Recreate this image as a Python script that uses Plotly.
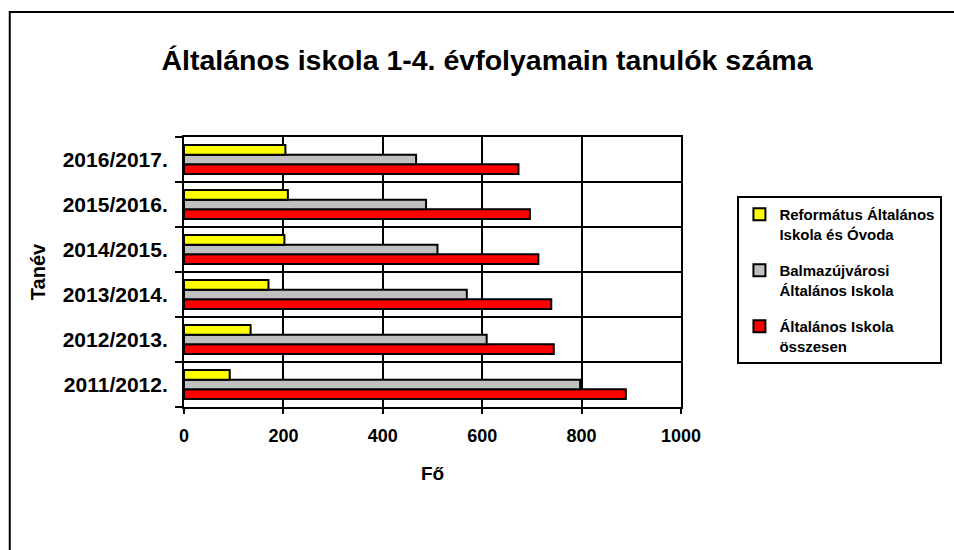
import plotly.graph_objects as go

# adatok
tanev = ["2011/2012.", "2012/2013.", "2013/2014.", "2014/2015.", "2015/2016.", "2016/2017."]
reformatus = [92, 134, 170, 202, 209, 204]
balmazujvarosi = [797, 609, 569, 510, 487, 467]
osszesen = [889, 744, 739, 713, 696, 673]

nevek = ["Általános Iskola<br>összesen",
         "Balmazújvárosi<br>Általános Iskola",
         "Református Általános<br>Iskola és Óvoda"]
szinek = ["#ff0000", "#c0c0c0", "#ffff00"]
ertekek = [osszesen, balmazujvarosi, reformatus]

betu = "Liberation Sans, Arial, sans-serif"

fig = go.Figure()
for i, (nev, szin, ert) in enumerate(zip(nevek, szinek, ertekek)):
    fig.add_trace(go.Bar(
        y=tanev, x=ert, name=nev, orientation="h", legendgroup=nev, legendrank=3 - i,
        marker=dict(color=szin, line=dict(color="black", width=2))))

fig.update_layout(
    width=954, height=550,
    plot_bgcolor="white", paper_bgcolor="white",
    margin=dict(l=184, r=268, t=137, b=143),
    barmode="group", bargap=0.36, bargroupgap=0,
    font=dict(family=betu, color="black", weight="bold"),
    title=dict(text="Általános iskola 1-4. évfolyamain tanulók száma",
               x=487 / 954, xanchor="center", y=1 - 60 / 550, yanchor="middle",
               font=dict(size=28.5, family=betu, weight="bold")),
    legend=dict(x=(743 - 184) / 502, y=(407 - 196) / 270, xanchor="left", yanchor="top",
                traceorder="grouped", tracegroupgap=14, valign="top",
                bordercolor="black", borderwidth=2, bgcolor="white",
                font=dict(size=15, family=betu, weight="bold")),
    xaxis=dict(range=[0, 1000], dtick=200, showgrid=True, gridcolor="black", gridwidth=1.5,
               zeroline=False, showline=True, linecolor="black", linewidth=2, mirror=True,
               ticks="outside", ticklen=5, tickwidth=2, tickcolor="black",
               tickfont=dict(size=18, family=betu, weight="bold"), ticklabelstandoff=6,
               title=dict(text="Fő", standoff=22, font=dict(size=19, family=betu, weight="bold"))),
    yaxis=dict(type="category", tickson="boundaries", showgrid=True, gridcolor="black", gridwidth=1.5,
               showline=True, linecolor="black", linewidth=2, mirror=True,
               ticks="outside", ticklen=7, tickwidth=2, tickcolor="black",
               tickfont=dict(size=21, family=betu, weight="bold"), ticklabelstandoff=10,
               title=dict(text="Tanév", standoff=12, font=dict(size=20, family=betu, weight="bold"))),
    shapes=[dict(type="rect", xref="paper", yref="paper",
                 x0=(8 - 184) / 502, x1=1.7, y0=-0.8, y1=(407 - 12) / 270,
                 line=dict(color="black", width=2), layer="below")],
)

fig.write_html("out.html", config={"displayModeBar": False},
               post_script="document.body.style.margin='0';document.body.style.overflow='hidden';")
